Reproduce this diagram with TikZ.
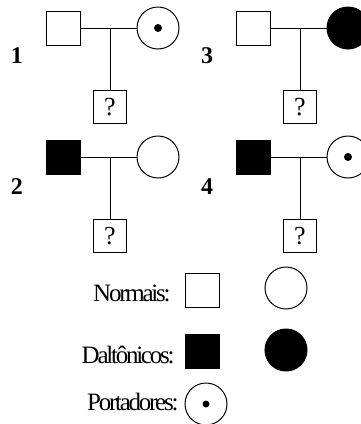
\documentclass[tikz,border=0pt]{standalone}
\usepackage{fontspec}
\setmainfont{Liberation Serif}
\newfontfamily\legfont[LetterSpace=-9]{Liberation Serif}
\begin{document}
\begin{tikzpicture}[x=1pt,y=-1pt,line width=1pt,
    male/.style={rectangle,draw=black,minimum size=34pt,inner sep=0pt},
    female/.style={circle,draw=black,minimum size=42pt,inner sep=0pt},
    affected/.style={fill=black},
    carrier/.style={path picture={\fill (path picture bounding box.center) circle (4pt);}},
    child/.style={male,minimum size=33pt,font=\fontsize{26}{26}\selectfont},
    famnum/.style={font=\bfseries\fontsize{24}{24}\selectfont,anchor=base},
    legtext/.style={font=\legfont\fontsize{25}{25}\selectfont,anchor=base east,inner sep=0pt}]

      \useasboundingbox (0,0) rectangle (361,424);

      % familia 1
      \node[male] (f1) at (63,28){};
      \node[female,carrier] (m1) at (158,28){};
      \node[child] (c1) at (110,107){?};
      \node[famnum] (n1) at (17,63){1};
      \draw (f1) -- (m1);
      \draw (c1.north) -- (c1.north |- f1.east);

      % familia 3
      \node[male] (f3) at (253,28){};
      \node[female,affected] (m3) at (348,28){};
      \node[child] (c3) at (300,107){?};
      \node[famnum] (n3) at (207,63){3};
      \draw (f3) -- (m3);
      \draw (c3.north) -- (c3.north |- f3.east);

      % familia 2
      \node[male,affected] (f2) at (63,157){};
      \node[female] (m2) at (158,157){};
      \node[child] (c2) at (110,236){?};
      \node[famnum] (n2) at (17,194){2};
      \draw (f2) -- (m2);
      \draw (c2.north) -- (c2.north |- f2.east);

      % familia 4
      \node[male,affected] (f4) at (253,157){};
      \node[female,carrier] (m4) at (348,157){};
      \node[child] (c4) at (300,236){?};
      \node[famnum] (n4) at (207,194){4};
      \draw (f4) -- (m4);
      \draw (c4.north) -- (c4.north |- f4.east);

      % legenda
      \node[male] (ln) at (202,290){};
      \node[female] (lnf) at (286,288){};
      \node[legtext] at (171,301){Normais:};
      \node[male,affected] (ld) at (202,351){};
      \node[female,affected] (ldf) at (286,350){};
      \node[legtext] at (175,363){Daltônicos:};
      \node[female,carrier,path picture={\fill (path picture bounding box.center) circle (3.5pt);}] (lp) at (206,404){};
      \node[legtext] at (179,410){Portadores:};

\end{tikzpicture}
\end{document}
